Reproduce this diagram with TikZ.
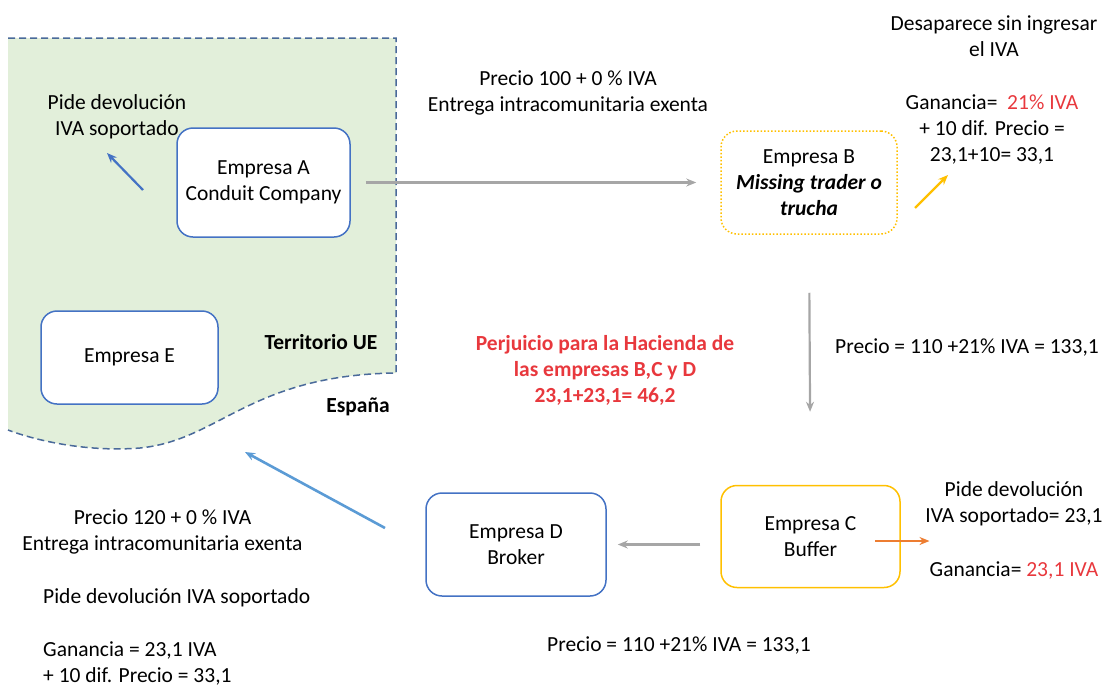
\documentclass[tikz,border=0pt]{standalone}
\usepackage{fontspec}
\setmainfont{Carlito}
\usetikzlibrary{arrows.meta}
\definecolor{regfill}{HTML}{E2EFDA}
\definecolor{regline}{HTML}{4A6A9A}
\definecolor{boxblue}{HTML}{4472C4}
\definecolor{gold}{HTML}{FFC000}
\definecolor{orng}{HTML}{ED7D31}
\definecolor{lblue}{HTML}{5B9BD5}
\definecolor{arrgray}{HTML}{A6A6A6}
\definecolor{txtred}{HTML}{E8383D}
\tikzset{
  base/.style={font=\fontsize{21.5}{26}\selectfont, align=center, inner sep=0pt},
  company/.style={base, rounded corners=16pt, fill=white, line width=1.5pt},
  bluebox/.style={company, draw=boxblue},
  lbl/.style={base},
  flow/.style={-{Stealth[length=10pt,width=8pt]}, line width=2.2pt},
  grayflow/.style={flow, draw=arrgray},
  region/.style={draw=regline, line width=1.5pt, dash pattern=on 7pt off 4pt},
}
\begin{document}
\begin{tikzpicture}[x=1pt,y=-1pt]
\useasboundingbox (0,0) rectangle (1109,686);
% EU territory region
\fill[regfill] (8,38) -- (396,38) -- (396,373)
  .. controls (250,375) and (220,440) .. (140,448)
  .. controls (90,452) and (40,442) .. (8,430) -- cycle;
\draw[region] (8,38) -- (396,38) -- (396,373)
  .. controls (250,375) and (220,440) .. (140,448)
  .. controls (90,452) and (40,442) .. (8,430);

% companies
\node[bluebox, minimum width=173pt, minimum height=109pt] (A) at (263.5,182.5) {Empresa A\\Conduit Company};
\node[bluebox, minimum width=177pt, minimum height=93pt] (E) at (129.5,357.5) {Empresa E};
\node[company, draw=gold, dotted, line width=1.5pt, minimum width=176pt, minimum height=103pt] (B) at (809,182.5) {Empresa B\\\textbf{\textit{Missing trader o}}\\\textbf{\textit{trucha}}};
\node[company, draw=gold, minimum width=179pt, minimum height=102pt] (C) at (810.5,536.5) {Empresa C\\Buffer};
\node[bluebox, minimum width=180pt, minimum height=103pt] (D) at (516,544.5) {Empresa D\\Broker};

% labels
\node[lbl] (pideA) at (117,116.5) {Pide devolución\\IVA soportado};
\node[lbl, font=\fontsize{21.5}{26}\selectfont\bfseries] (terr) at (321,342) {Territorio UE};
\node[lbl, font=\fontsize{21.5}{26}\selectfont\bfseries] (esp) at (358,407) {España};
\node[lbl] (pAB) at (568,93) {Precio 100 + 0 \% IVA\\Entrega intracomunitaria exenta};
\node[lbl] (desap) at (994,36) {Desaparece sin ingresar\\el IVA};
\node[lbl] (ganB) at (992,129) {Ganancia=\ \ \textcolor{txtred}{21\% IVA}\\+ 10 dif. Precio =\\23,1+10= 33,1};
\node[lbl] (pBC) at (967,347) {Precio = 110 +21\% IVA = 133,1};
\node[lbl, text=txtred, font=\fontsize{21.5}{26}\selectfont\bfseries] (perj) at (605,370) {Perjuicio para la Hacienda de\\las empresas B,C y D\\23,1+23,1= 46,2};
\node[lbl] (pideC) at (1014,504) {Pide devolución\\IVA soportado= 23,1};
\node[lbl] (ganC) at (1014,570) {Ganancia= \textcolor{txtred}{23,1 IVA}};
\node[lbl] (pCD) at (679,645) {Precio = 110 +21\% IVA = 133,1};
\node[lbl] (pDE) at (162.5,531.5) {Precio 120 + 0 \% IVA\\Entrega intracomunitaria exenta};
\node[lbl, anchor=west] (pideD) at (43,598) {Pide devolución IVA soportado};
\node[lbl, anchor=west, align=left] (ganD) at (43,663) {Ganancia = 23,1 IVA\\+ 10 dif. Precio = 33,1};

% connectors
\draw[grayflow] ([xshift=15pt]A.east) -- ([xshift=-24pt]B.west|-A.east);
\draw[grayflow, shorten <=58pt, shorten >=73pt] (B.south) -- (C.north);
\draw[grayflow, shorten <=20pt, shorten >=11pt] (C.west|-D.east) -- (D.east);

\coordinate (a1) at (143,190);
\coordinate (a2) at (107,153);
\draw[flow, draw=boxblue] (a1) -- (a2);

\coordinate (b1) at (915,208);
\coordinate (b2) at (948,175);
\draw[flow, draw=gold] (b1) -- (b2);

\coordinate (c1) at (875,541);
\draw[flow, draw=orng] (c1) -- (c1-|ganC.west);

\coordinate (d1) at (385,528);
\coordinate (d2) at (245,452);
\draw[flow, draw=lblue, line width=2.6pt] (d1) -- (d2);
\end{tikzpicture}
\end{document}
